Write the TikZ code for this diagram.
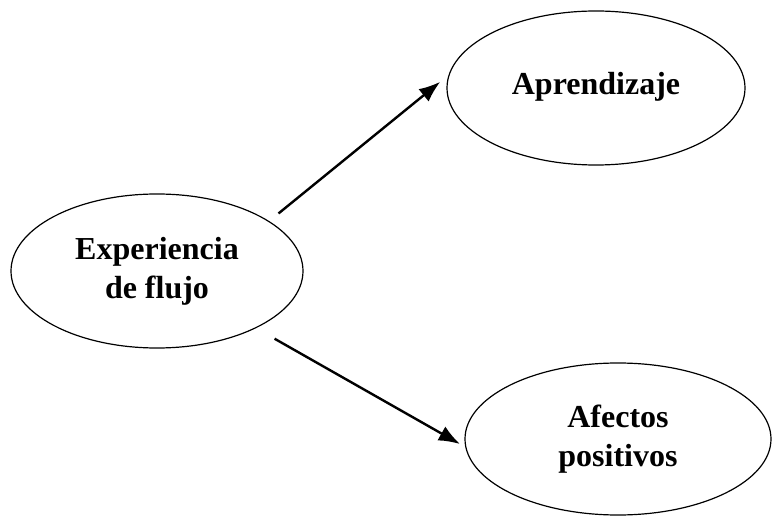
\documentclass[tikz,border=0pt]{standalone}
\usepackage{fontspec}
\setmainfont{Liberation Serif}
\usepackage{tikz}
\usetikzlibrary{shapes.geometric, arrows.meta}

\begin{document}
\begin{tikzpicture}[x=0.75pt, y=0.75pt]
        \tikzstyle{every node}=[draw, ellipse, line width=0.9pt, inner sep=0pt, align=center,
            font=\fontsize{24}{29.5}\selectfont\bfseries]
        \tikzstyle{flecha}=[-{Latex[length=16pt, width=12pt]}, line width=1.8pt]

        \useasboundingbox (0,0) rectangle (772,515);

        \node (flujo)   [minimum width=219pt, minimum height=115.5pt] at (157,244) {Experiencia\\de flujo};
        \node (aprend)  [minimum width=223.5pt, minimum height=115.5pt, text depth=0.68em] at (596,427) {Aprendizaje};
        \node (afectos) [minimum width=229.5pt, minimum height=114pt] at (618,76) {Afectos\\positivos};

        \path[flecha] (flujo.24.5) edge [shorten <=9pt, shorten >=8pt] (aprend.175.6);
        \path[flecha] (flujo.-30.7) edge [shorten <=16pt, shorten >=4.5pt] (afectos.-177.75);

    \end{tikzpicture}
\end{document}
